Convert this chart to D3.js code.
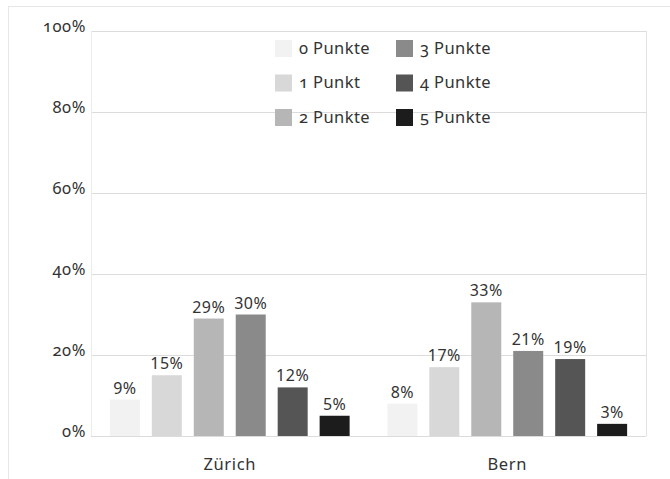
<!DOCTYPE html>
<html>
<head>
<meta charset="utf-8">
<script src="https://cdn.jsdelivr.net/npm/d3@7"></script>
<style>
  body { margin: 0; background: #fff; }
  svg { display: block; font-family: "Open Sans", "Noto Sans", sans-serif; }
  .osf { font-variant-numeric: oldstyle-nums; font-feature-settings: "onum" 1; }
</style>
</head>
<body>
<svg id="chart" width="670" height="479"></svg>
<script>
const categories = ["Zürich", "Bern"];
const seriesNames = ["0 Punkte", "1 Punkt", "2 Punkte", "3 Punkte", "4 Punkte", "5 Punkte"];
const zurichValues = [9, 15, 29, 30, 12, 5];
const bernValues = [8, 17, 33, 21, 19, 3];
const seriesColors = ["#f2f2f2", "#d8d8d8", "#b6b6b6", "#8a8a8a", "#555555", "#1c1c1c"];
const yTicks = [0, 20, 40, 60, 80, 100];

const values = { "Zürich": zurichValues, "Bern": bernValues };

const svg = d3.select("#chart");
const margin = { left: 91, right: 24, top: 31, bottom: 43 };
const W = 670, H = 479;
const FONT = "'Noto Sans', 'Open Sans', sans-serif";

// outer faint frame
svg.append("line").attr("x1", 8).attr("x2", 670).attr("y1", 6.5).attr("y2", 6.5)
  .attr("stroke", "#e6e6e6").attr("stroke-width", 1);
svg.append("line").attr("x1", 8.5).attr("x2", 8.5).attr("y1", 6).attr("y2", 479)
  .attr("stroke", "#e6e6e6").attr("stroke-width", 1);

const x0 = d3.scaleBand().domain(categories)
  .range([margin.left, W - margin.right]).paddingInner(0).paddingOuter(0);
const x1 = d3.scaleBand().domain(seriesNames)
  .range([0, x0.bandwidth()]).paddingInner(0.285).paddingOuter(0.45);
const y = d3.scaleLinear().domain([0, 100]).range([H - margin.bottom, margin.top]);

// gridlines
svg.append("g").selectAll("line").data(yTicks).join("line")
  .attr("x1", margin.left).attr("x2", W - margin.right)
  .attr("y1", d => y(d) + 0.5).attr("y2", d => y(d) + 0.5)
  .attr("stroke", "#dcdcdc").attr("stroke-width", 1);
// plot borders left/right
svg.append("line").attr("x1", margin.left + 0.5).attr("x2", margin.left + 0.5)
  .attr("y1", y(100)).attr("y2", y(0)).attr("stroke", "#ececec");
svg.append("line").attr("x1", W - margin.right + 0.5).attr("x2", W - margin.right + 0.5)
  .attr("y1", y(100)).attr("y2", y(0)).attr("stroke", "#e2e2e2");

// y axis
const yAxis = d3.axisLeft(y).tickValues(yTicks).tickSize(0).tickPadding(5)
  .tickFormat(d => d + "%");
const gy = svg.append("g").attr("transform", `translate(${margin.left},0)`).call(yAxis);
gy.select(".domain").remove();
gy.selectAll("text").attr("class", "osf").attr("font-size", 16.5).attr("fill", "#333")
  .attr("font-family", FONT).attr("dy", "0.05em").attr("letter-spacing", 0.6);

// x axis
const xAxis = d3.axisBottom(x0).tickSize(0).tickPadding(22);
const gx = svg.append("g").attr("transform", `translate(0,${y(0)})`).call(xAxis);
gx.select(".domain").remove();
gx.selectAll("text").attr("font-size", 16.5).attr("fill", "#333")
  .attr("font-family", FONT).attr("letter-spacing", 0.6);

// bars
const groups = svg.append("g").selectAll("g").data(categories).join("g")
  .attr("transform", d => `translate(${x0(d)},0)`);
groups.selectAll("rect")
  .data(c => values[c].map((v, i) => ({ name: seriesNames[i], v, color: seriesColors[i] })))
  .join("rect")
  .attr("x", d => x1(d.name))
  .attr("width", x1.bandwidth())
  .attr("y", d => y(d.v))
  .attr("height", d => y(0) - y(d.v))
  .attr("fill", d => d.color);
groups.selectAll("text")
  .data(c => values[c].map((v, i) => ({ name: seriesNames[i], v })))
  .join("text")
  .attr("x", d => x1(d.name) + x1.bandwidth() / 2)
  .attr("y", d => y(d.v) - 6)
  .attr("text-anchor", "middle")
  .attr("font-family", FONT)
  .attr("font-size", 16).attr("fill", "#333").attr("letter-spacing", 0.5)
  .text(d => d.v + "%");

// legend
const legend = svg.append("g");
const items = legend.selectAll("g").data(seriesNames).join("g")
  .attr("transform", (d, i) => `translate(${275 + Math.floor(i / 3) * 121},${40 + (i % 3) * 34.5})`);
items.append("rect").attr("width", 17).attr("height", 17)
  .attr("fill", (d, i) => seriesColors[i]);
items.append("text").attr("x", 24).attr("y", 13.5)
  .attr("class", "osf").attr("font-size", 16.5).attr("fill", "#333")
  .attr("font-family", FONT).attr("letter-spacing", 0.4)
  .text(d => d);
</script>
</body>
</html>
